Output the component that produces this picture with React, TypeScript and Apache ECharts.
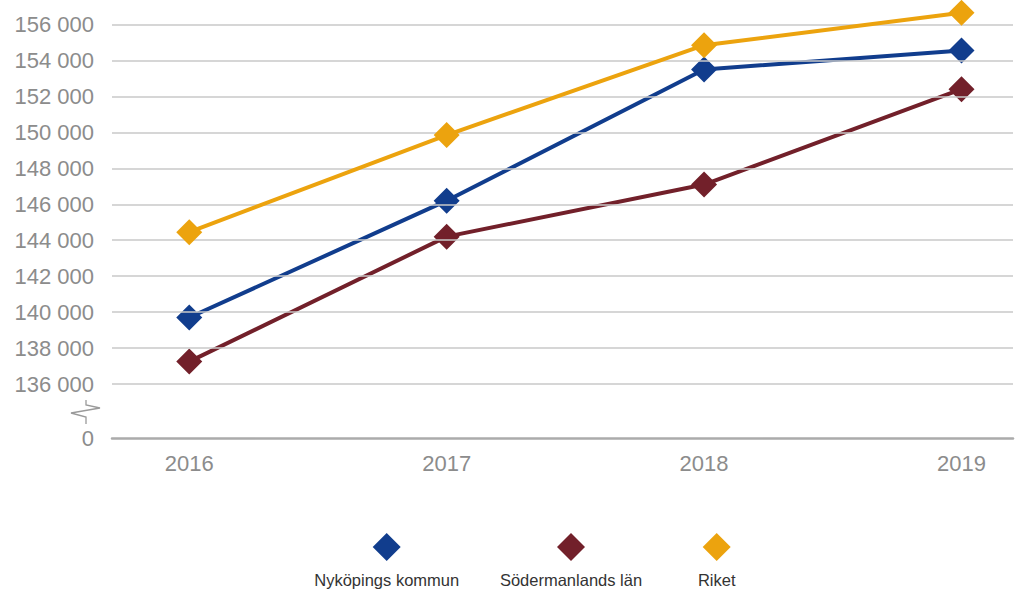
import React, { useEffect, useRef } from "react";
import * as echarts from "echarts";

const YEARS = [2016, 2017, 2018, 2019];
const SERIES_NAMES = ["Nyköpings kommun", "Södermanlands län", "Riket"];
const NYKOPING = [139700, 146200, 153500, 154550];
const SODERMANLAND = [137250, 144200, 147100, 152400];
const RIKET = [144450, 149850, 154850, 156650];
const COLORS = ["#113d8d", "#72202a", "#eca30e"];
const GRID_VALUES = [136000, 138000, 140000, 142000, 144000, 146000, 148000, 150000, 152000, 154000, 156000];
const BREAK_VALUE = 133000; // drawn as "0" below the axis break
const BREAK_LABEL = "0";

const FONT = "'Liberation Sans', Arial, Helvetica, sans-serif";

function fmt(v: number): string {
  const s = String(Math.round(v));
  return s.replace(/\B(?=(\d{3})+(?!\d))/g, " ");
}

export default function App() {
  const ref = useRef<HTMLDivElement>(null);
  useEffect(() => {
    document.body.style.margin = "0";
    if (!ref.current) return;
    const chart = echarts.init(ref.current, undefined, { renderer: "svg" });
    const values = [NYKOPING, SODERMANLAND, RIKET];
    const legendCenters = [386.7, 571, 716.7];
    const series: any[] = [
      {
        name: "grid",
        type: "line",
        data: [],
        z: 1,
        silent: true,
        markLine: {
          silent: true,
          symbol: "none",
          label: { show: false },
          lineStyle: { color: "#c9c9c9", width: 1.5, type: "solid" },
          data: GRID_VALUES.map((v) => ({ yAxis: v })),
        },
      },
      ...SERIES_NAMES.map((name, i) => ({
        name,
        type: "line",
        z: 3 + i,
        data: YEARS.map((y, j) => [y, values[i][j]]),
        symbol: "diamond",
        symbolSize: 26,
        showSymbol: true,
        clip: false,
        lineStyle: { color: COLORS[i], width: 4 },
        itemStyle: { color: COLORS[i] },
      })),
    ];
    chart.setOption({
      animation: false,
      textStyle: { fontFamily: FONT },
      grid: { left: 112, right: 0, top: 24.5, bottom: 151, containLabel: false },
      xAxis: {
        type: "value",
        min: 2015.7,
        max: 2019.2,
        interval: 0.1,
        axisLine: { show: true, onZero: false, lineStyle: { color: "#ababab", width: 2.5 } },
        axisTick: { show: false },
        splitLine: { show: false },
        axisLabel: {
          margin: 14,
          color: "#8c8c8c",
          fontSize: 22,
          fontFamily: FONT,
          formatter: (v: number) => {
            const r = Math.round(v);
            return Math.abs(v - r) < 1e-6 && YEARS.includes(r) ? String(r) : "";
          },
        },
      },
      yAxis: {
        type: "value",
        min: BREAK_VALUE,
        max: 156000,
        interval: 1000,
        axisLine: { show: false },
        axisTick: { show: false },
        splitLine: { show: false },
        axisLabel: {
          margin: 18,
          color: "#8c8c8c",
          fontSize: 22,
          fontFamily: FONT,
          formatter: (v: number) => {
            if (Math.abs(v - BREAK_VALUE) < 1e-6) return BREAK_LABEL;
            return GRID_VALUES.includes(Math.round(v)) ? fmt(v) : "";
          },
        },
      },
      legend: SERIES_NAMES.map((name, i) => ({
        data: [name],
        left: legendCenters[i] - 14,
        top: 533,
        padding: 0,
        icon: "diamond",
        itemWidth: 28,
        itemHeight: 28,
        selectedMode: false,
        formatter: () => "",
        textStyle: { fontSize: 1 },
      })),
      graphic: [
        {
          type: "polyline",
          silent: true,
          shape: {
            points: [
              [86, 400],
              [86, 405],
              [100, 408],
              [71, 413],
              [86, 417],
              [86, 424],
            ],
          },
          style: { stroke: "#9a9a9a", lineWidth: 1.3, fill: "none" },
        },
        ...SERIES_NAMES.map((name, i) => ({
          type: "text",
          silent: true,
          x: legendCenters[i],
          y: 580,
          style: {
            text: name,
            fill: "#333333",
            font: `16.5px ${FONT}`,
            textAlign: "center",
            textVerticalAlign: "middle",
          },
        })),
      ],
      series,
    });
    return () => chart.dispose();
  }, []);
  return <div ref={ref} style={{ width: 1016, height: 589 }} />;
}
